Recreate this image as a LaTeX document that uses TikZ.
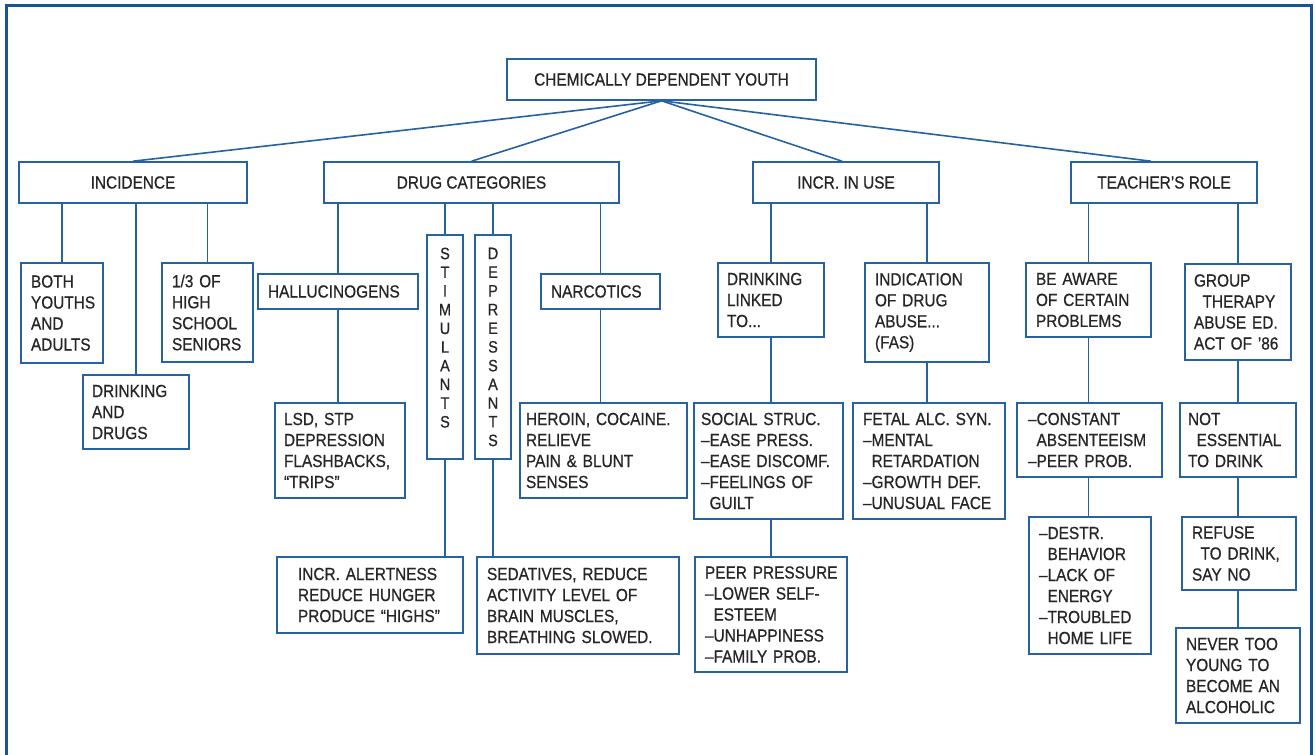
\documentclass[tikz,border=0pt]{standalone}
\usepackage{fontspec}
\setmainfont{Liberation Sans}[FakeStretch=0.88,FakeBold=0.6]

\definecolor{frameblue}{RGB}{22,84,150}
\definecolor{lineblue}{RGB}{38,98,162}
\definecolor{ink}{RGB}{38,38,38}

\newcommand\chartfont{\fontsize{17.5}{21}\selectfont}
\newcommand\stackfont{\fontsize{16.5}{18.7}\selectfont}
\newcommand\ind{\phantom{–}}

% left-aligned text box: [left padding]{name}{x1}{y1}{x2}{y2}{text}
\newcommand\chartbox[7][10]{%
  \pgfmathsetmacro\cbw{#5-#3}\pgfmathsetmacro\cbh{#6-#4}%
  \pgfmathsetmacro\cbx{(#3+#5)/2}\pgfmathsetmacro\cby{(#4+#6)/2}%
  \node[entry, text width=\cbw pt, minimum height=\cbh pt] (#2) at (\cbx,\cby)
    {\leftskip=#1pt\relax #7\par};}
% centred heading box: {name}{x1}{y1}{x2}{y2}{text}
\newcommand\headbox[6]{%
  \pgfmathsetmacro\cbw{#4-#2}\pgfmathsetmacro\cbh{#5-#3}%
  \pgfmathsetmacro\cbx{(#2+#4)/2}\pgfmathsetmacro\cby{(#3+#5)/2}%
  \node[head, minimum width=\cbw pt, minimum height=\cbh pt] (#1) at (\cbx,\cby) {#6};}
% vertically stacked letters: {name}{x1}{y1}{x2}{y2}{letters}
\newcommand\stackbox[6]{%
  \pgfmathsetmacro\cbw{#4-#2}\pgfmathsetmacro\cbh{#5-#3}%
  \pgfmathsetmacro\cbx{(#2+#4)/2}\pgfmathsetmacro\cby{(#3+#5)/2}%
  \node[stack, minimum width=\cbw pt, minimum height=\cbh pt] (#1) at (\cbx,\cby) {#6};}

\begin{document}
\begin{tikzpicture}[x=1pt,y=-1pt,
  entry/.style={draw=lineblue, line width=1.6pt, inner sep=0pt, align=left,
                text=ink, font=\chartfont},
  head/.style={draw=lineblue, line width=1.6pt, inner sep=0pt, align=center,
               text=ink, font=\chartfont},
  stack/.style={draw=lineblue, line width=1.6pt, inner sep=0pt, align=center,
                text=ink, font=\stackfont},
  link/.style={draw=lineblue, line width=1.6pt}]

\useasboundingbox (0,0) rectangle (1315,755);
\fill[white] (0,0) rectangle (1315,755);
\draw[frameblue, line width=3pt] (6,755) -- (6,5) -- (1311,5) -- (1311,755);

% top level and main branches
\headbox{root}{507}{59}{816}{100}{CHEMICALLY DEPENDENT YOUTH}
\headbox{inc}{19}{162}{247}{203}{INCIDENCE}
\headbox{drug}{324}{162}{619}{203}{DRUG CATEGORIES}
\headbox{incr}{753}{162}{939}{203}{INCR. IN USE}
\headbox{teach}{1071}{162}{1257}{203}{TEACHER’S ROLE}

% incidence
\chartbox{both}{21}{263}{103}{363}{BOTH\\YOUTHS\\AND\\ADULTS}
\chartbox[9]{dd}{83}{375}{189}{449}{DRINKING\\AND\\DRUGS}
\chartbox{third}{162}{263}{253}{362}{1/3 OF\\HIGH\\SCHOOL\\SENIORS}

% drug categories
\chartbox{hall}{258}{274}{418}{309}{HALLUCINOGENS}
\chartbox[9]{lsd}{275}{403}{405}{498}{LSD, STP\\DEPRESSION\\FLASHBACKS,\\“TRIPS”}
\stackbox{stim}{427}{235}{463}{459}{S\\T\\I\\M\\U\\L\\A\\N\\T\\S\\\phantom{S}}
\stackbox{depr}{475}{235}{511}{459}{D\\E\\P\\R\\E\\S\\S\\A\\N\\T\\S}
\chartbox[21]{alert}{277}{557}{463}{633}{INCR. ALERTNESS\\REDUCE HUNGER\\PRODUCE “HIGHS”}
\chartbox{sed}{477}{557}{679}{654}{SEDATIVES, REDUCE\\ACTIVITY LEVEL OF\\BRAIN MUSCLES,\\BREATHING SLOWED.}
\chartbox{narc}{541}{274}{660}{309}{NARCOTICS}
\chartbox[6]{heroin}{520}{403}{687}{498}{HEROIN, COCAINE.\\RELIEVE\\PAIN \& BLUNT\\SENSES}

% increase in use
\chartbox[9]{drink}{718}{263}{824}{337}{DRINKING\\LINKED\\TO...}
\chartbox[7]{social}{694}{403}{843}{519}{SOCIAL STRUC.\\–EASE PRESS.\\–EASE DISCOMF.\\–FEELINGS OF\\\ind GUILT}
\chartbox[10]{peer}{695}{557}{847}{672}{PEER PRESSURE\\–LOWER SELF-\\\ind ESTEEM\\–UNHAPPINESS\\–FAMILY PROB.}
\chartbox{ind}{865}{263}{989}{362}{INDICATION\\OF DRUG\\ABUSE...\\(FAS)}
\chartbox{fetal}{853}{403}{1005}{519}{FETAL ALC. SYN.\\–MENTAL\\\ind RETARDATION\\–GROWTH DEF.\\–UNUSUAL FACE}

% teacher's role
\chartbox{aware}{1026}{263}{1151}{337}{BE AWARE\\OF CERTAIN\\PROBLEMS}
\chartbox[11]{const}{1017}{403}{1162}{477}{–CONSTANT\\\ind ABSENTEEISM\\–PEER PROB.}
\chartbox{destr}{1029}{517}{1151}{654}{–DESTR.\\\ind BEHAVIOR\\–LACK OF\\\ind ENERGY\\–TROUBLED\\\ind HOME LIFE}
\chartbox[9]{group}{1185}{264}{1291}{360}{GROUP\\\ind THERAPY\\ABUSE ED.\\ACT OF ’86}
\chartbox[8]{notess}{1180}{403}{1296}{477}{NOT\\\ind ESSENTIAL\\TO DRINK}
\chartbox{refuse}{1182}{517}{1296}{590}{REFUSE\\\ind TO DRINK,\\SAY NO}
\chartbox{never}{1176}{628}{1300}{723}{NEVER TOO\\YOUNG TO\\BECOME AN\\ALCOHOLIC}

% connectors from the root
\draw[link] (root.south) -- (inc.north);
\draw[link] (root.south) -- (drug.north);
\draw[link] (root.south) -- ([xshift=-4pt]incr.north);
\draw[link] (root.south) -- ([xshift=-13pt]teach.north);

\draw[link] (inc.south -| both.north) -- (both.north);
\draw[link] (inc.south -| dd.north) -- (dd.north);
\draw[link] (inc.south -| third.north) -- (third.north);

\draw[link] (drug.south -| hall.north) -- (hall.north);
\draw[link] (hall.south) -- (hall.south |- lsd.north);
\draw[link] (drug.south -| stim.north) -- (stim.north);
\draw[link] (stim.south) -- (stim.south |- alert.north);
\draw[link] (drug.south -| depr.north) -- (depr.north);
\draw[link] (depr.south) -- (depr.south |- sed.north);
\draw[link] (drug.south -| narc.north) -- (narc.north);
\draw[link] (narc.south) -- (narc.south |- heroin.north);

\draw[link] (incr.south -| drink.north) -- (drink.north);
\draw[link] (drink.south) -- (drink.south |- social.north);
\draw[link] (social.south -| peer.north) -- (peer.north);
\draw[link] (incr.south -| ind.north) -- (ind.north);
\draw[link] (ind.south) -- (ind.south |- fetal.north);

\draw[link] (teach.south -| aware.north) -- (aware.north);
\draw[link] (aware.south) -- (aware.south |- const.north);
\draw[link] (const.south -| aware.south) -- (aware.south |- destr.north);
\draw[link] (teach.south -| group.north) -- (group.north);
\draw[link] (group.south) -- (group.south |- notess.north);
\draw[link] (notess.south -| group.south) -- (group.south |- refuse.north);
\draw[link] (refuse.south -| group.south) -- (group.south |- never.north);
\end{tikzpicture}
\end{document}
